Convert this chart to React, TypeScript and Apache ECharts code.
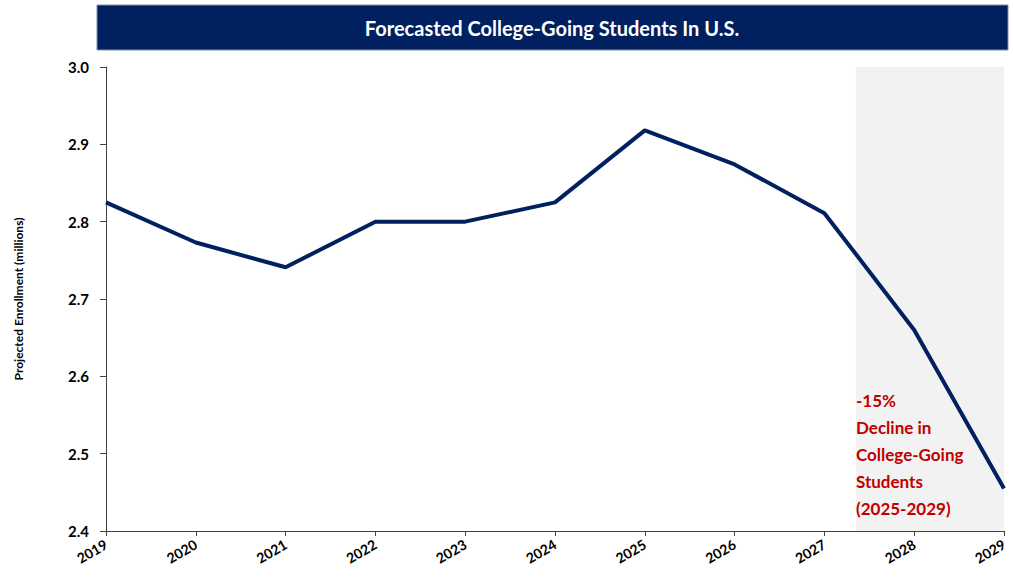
import React, { useEffect, useRef } from "react";
import * as echarts from "echarts";

const years = [2019, 2020, 2021, 2022, 2023, 2024, 2025, 2026, 2027, 2028, 2029];
const enrollment = [2.825, 2.773, 2.741, 2.8, 2.8, 2.825, 2.918, 2.874, 2.811, 2.66, 2.455];
const shadeRange = [2027.35, 2029];
const titleText = "Forecasted College-Going Students In U.S.";
const yAxisTitle = "Projected Enrollment (millions)";
const noteLines = ["-15%", "Decline in", "College-Going", "Students", "(2025-2029)"];

const FONT = "Lato, 'Open Sans', sans-serif";

export default function App() {
  const ref = useRef<HTMLDivElement>(null);
  useEffect(() => {
    if (!ref.current) return;
    const chart = echarts.init(ref.current, null, { renderer: "svg" });
    chart.setOption({
      animation: false,
      backgroundColor: "#ffffff",
      textStyle: { fontFamily: FONT },
      grid: { left: 106, right: 9, top: 67, bottom: 52 },
      xAxis: {
        type: "value",
        min: 2019,
        max: 2029,
        interval: 1,
        splitLine: { show: false },
        axisLine: { show: true, lineStyle: { color: "#404040", width: 1 } },
        axisTick: { show: true, length: 5, lineStyle: { color: "#404040" } },
        axisLabel: {
          rotate: 30,
          fontSize: 14,
          fontWeight: "bold",
          color: "#000",
          fontFamily: FONT,
          margin: 12,
          formatter: (v: number) => String(v),
        },
      },
      yAxis: {
        type: "value",
        min: 2.4,
        max: 3.0,
        interval: 0.1,
        name: yAxisTitle,
        nameLocation: "middle",
        nameGap: 82,
        nameTextStyle: { fontSize: 12, fontWeight: "bold", color: "#000", fontFamily: FONT },
        splitLine: { show: false },
        axisLine: { show: true, lineStyle: { color: "#404040", width: 1 } },
        axisTick: { show: true, length: 6, lineStyle: { color: "#404040" } },
        axisLabel: {
          fontSize: 15,
          fontWeight: "bold",
          color: "#000",
          fontFamily: FONT,
          margin: 17,
          formatter: (v: number) => v.toFixed(1),
        },
      },
      series: [
        {
          type: "line",
          data: years.map((y, i) => [y, enrollment[i]]),
          symbol: "none",
          lineStyle: { color: "#002060", width: 4 },
          markArea: {
            silent: true,
            itemStyle: { color: "#f2f2f2" },
            data: [[{ xAxis: shadeRange[0] }, { xAxis: shadeRange[1] }]],
          },
          z: 3,
        },
      ],
      graphic: [
        {
          type: "rect",
          shape: { x: 97, y: 5, width: 911, height: 45 },
          style: { fill: "#002060", stroke: "#8090b0", lineWidth: 1 },
          z: 10,
        },
        {
          type: "text",
          x: 552,
          y: 28,
          style: {
            text: titleText,
            fill: "#ffffff",
            font: `bold 20px ${FONT}`,
            align: "center",
            verticalAlign: "middle",
          },
          z: 11,
        },
        {
          type: "text",
          x: 856,
          y: 387,
          style: {
            text: noteLines.join("\n"),
            fill: "#c00000",
            font: `bold 17px ${FONT}`,
            lineHeight: 27,
            align: "left",
            verticalAlign: "top",
          },
          z: 5,
        },
      ],
    });
    return () => chart.dispose();
  }, []);
  return <div ref={ref} style={{ width: 1013, height: 583, position: "absolute", left: 0, top: 0 }} />;
}
